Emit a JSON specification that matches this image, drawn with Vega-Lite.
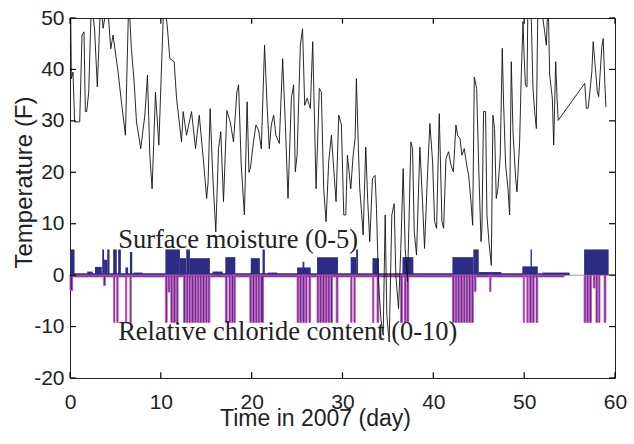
{
 "$schema": "https://vega.github.io/schema/vega-lite/v6.json",
 "width": 545, "height": 360,
 "autosize": {"type": "none"},
 "padding": {"left": 70, "top": 18, "right": 19, "bottom": 66},
 "background": "white",
 "config": {
  "view": {"stroke": "#222", "strokeWidth": 1},
  "axis": {"grid": false, "domain": false, "ticks": false, "labelFont": "Liberation Sans", "labelFontSize": 21, "labelColor": "#222", "titleFont": "Liberation Sans", "titleFontWeight": "normal", "titleColor": "#222", "labelFlush": false, "labelOverlap": false},
  "axisBottom": {"labelPadding": 13, "labelBaseline": "top", "titleFontSize": 23, "titleX": 245, "titleY": 47, "titleBaseline": "alphabetic", "titleAlign": "center"},
  "axisLeft": {"labelPadding": 6, "labelExpr": "datum.value + ''", "titleFontSize": 24, "titleX": -39, "titleY": 164, "titleBaseline": "alphabetic", "titleAngle": -90, "titleAlign": "center"}
 },
 "datasets": {
  "xt": [{"v":0},{"v":10},{"v":20},{"v":30},{"v":40},{"v":50},{"v":60}],
  "yt": [{"v":-20},{"v":-10},{"v":0},{"v":10},{"v":20},{"v":30},{"v":40},{"v":50}],
  "temp": [
   {"d":0.0,"t":49},{"d":0.07,"t":52},{"d":0.15,"t":38.2},{"d":0.33,"t":39.5},{"d":0.51,"t":29.8},{"d":1.07,"t":29.8},{"d":1.32,"t":46.7},{"d":1.54,"t":47.3},{"d":1.69,"t":31.8},{"d":1.84,"t":31.8},{"d":2.06,"t":35.6},{"d":2.35,"t":53},{"d":2.7,"t":48},{"d":3.01,"t":36.6},{"d":3.38,"t":54},{"d":3.64,"t":48},{"d":4.12,"t":53},{"d":4.49,"t":44},{"d":4.74,"t":46.7},{"d":5.29,"t":39.5},{"d":5.66,"t":33.7},{"d":6.1,"t":27.2},{"d":6.47,"t":54},{"d":6.76,"t":44},{"d":7.06,"t":37.6},{"d":7.32,"t":29.8},{"d":7.79,"t":24.6},{"d":8.24,"t":31.1},{"d":8.53,"t":38.9},{"d":8.79,"t":23.3},{"d":9.04,"t":16.8},{"d":9.41,"t":35.6},{"d":9.78,"t":25.3},{"d":10.26,"t":49.9},{"d":10.44,"t":52},{"d":10.7,"t":48.6},{"d":10.99,"t":42.1},{"d":11.47,"t":41.5},{"d":11.73,"t":34.4},{"d":12.28,"t":25.9},{"d":12.46,"t":31.8},{"d":12.83,"t":27.2},{"d":13.38,"t":31.8},{"d":13.82,"t":24.6},{"d":14.23,"t":31.1},{"d":14.67,"t":22.7},{"d":15.04,"t":14.9},
   {"d":15.2,"t":18},{"d":15.43,"t":32.4},{"d":15.7,"t":20},{"d":16.05,"t":8.4},{"d":16.35,"t":24.6},{"d":16.6,"t":27.9},{"d":16.9,"t":14.3},{"d":17.27,"t":32},{"d":17.64,"t":29.8},{"d":18.0,"t":25.9},{"d":18.37,"t":35.6},{"d":18.56,"t":37},{"d":18.85,"t":21.4},{"d":19.2,"t":11.7},{"d":19.5,"t":33.7},{"d":19.7,"t":20},{"d":19.85,"t":20.7},{"d":20.2,"t":25.9},{"d":20.47,"t":29.2},{"d":20.76,"t":28.2},{"d":21.06,"t":24.6},{"d":21.42,"t":44.7},{"d":21.68,"t":33.7},{"d":21.94,"t":24.6},{"d":22.16,"t":29.2},{"d":22.42,"t":31.1},{"d":22.67,"t":27.2},{"d":23.04,"t":25.6},{"d":23.41,"t":42.1},{"d":23.7,"t":29.8},{"d":24.0,"t":14.9},{"d":24.37,"t":34.4},{"d":24.62,"t":37},{"d":24.8,"t":20.1},{"d":25.0,"t":23.3},{"d":25.36,"t":44.7},{"d":25.6,"t":47.9},{"d":25.84,"t":33},{"d":26.1,"t":34.4},{"d":26.46,"t":32.4},{"d":26.72,"t":45.4},{"d":27.09,"t":16.8},{"d":27.45,"t":36.3},{"d":27.67,"t":35.6},{"d":27.93,"t":16.8},{"d":28.19,"t":10.4},{"d":28.48,"t":22},{"d":28.78,"t":27.2},{"d":29.03,"t":20.7},{"d":29.29,"t":14.3},{"d":29.59,"t":31.1},{"d":29.88,"t":29.2},{"d":30.14,"t":11.7},
   {"d":30.36,"t":11.7},{"d":30.54,"t":23.3},{"d":30.73,"t":20.1},{"d":30.91,"t":16.8},{"d":31.17,"t":23.3},{"d":31.39,"t":26.6},{"d":31.53,"t":38.2},{"d":31.75,"t":24.6},{"d":31.9,"t":16.8},{"d":32.12,"t":11.7},{"d":32.27,"t":7.8},{"d":32.56,"t":24.9},{"d":32.78,"t":14.3},{"d":33.0,"t":6.5},{"d":33.3,"t":18.8},{"d":33.59,"t":19.4},{"d":33.74,"t":13},{"d":33.96,"t":-1.3},{"d":34.22,"t":-8.4},{"d":34.48,"t":-11.7},{"d":34.7,"t":11.7},{"d":34.88,"t":-7.8},{"d":35.14,"t":-13},{"d":35.43,"t":11.7},{"d":35.69,"t":13.9},{"d":35.87,"t":0},{"d":36.17,"t":-6.5},{"d":36.42,"t":5.2},{"d":36.68,"t":20.7},{"d":36.9,"t":5.2},{"d":37.16,"t":-1.3},{"d":37.53,"t":25.9},{"d":37.71,"t":24.6},{"d":37.9,"t":8.4},{"d":38.15,"t":3.9},{"d":38.52,"t":24.9},{"d":38.81,"t":14.3},{"d":39.03,"t":5.2},{"d":39.37,"t":20.1},{"d":39.62,"t":29.5},{"d":39.92,"t":22},{"d":40.14,"t":10.4},{"d":40.36,"t":9.1},{"d":40.65,"t":31.4},{"d":40.95,"t":10.4},{"d":41.13,"t":9.1},{"d":41.39,"t":22.7},{"d":41.68,"t":24},{"d":41.94,"t":21.4},{"d":42.2,"t":20.1},{"d":42.49,"t":29.2},{"d":42.67,"t":27.2},{"d":42.93,"t":26.6},{"d":43.15,"t":23.3},{"d":43.41,"t":24.6},{"d":43.67,"t":21.4},{"d":43.89,"t":19.4},{"d":44.14,"t":14.3},{"d":44.33,"t":9.7},{"d":44.51,"t":38.5},{"d":44.77,"t":36.3},{"d":44.99,"t":21.4},{"d":45.25,"t":6.5},
   {"d":45.35,"t":9},{"d":45.53,"t":31.8},{"d":45.75,"t":31.8},{"d":45.9,"t":11.7},{"d":46.12,"t":6.5},{"d":46.38,"t":1.9},{"d":46.56,"t":31.1},{"d":46.74,"t":28.5},{"d":46.93,"t":14.9},{"d":47.11,"t":16.8},{"d":47.37,"t":23.3},{"d":47.59,"t":44.1},{"d":47.74,"t":33.1},{"d":47.96,"t":21.4},{"d":48.22,"t":16.8},{"d":48.4,"t":11.7},{"d":48.58,"t":41.5},{"d":48.77,"t":27.9},{"d":49.06,"t":18.8},{"d":49.21,"t":16.2},{"d":49.5,"t":25.9},{"d":49.68,"t":38.9},{"d":49.87,"t":49.3},{"d":49.98,"t":43.4},{"d":50.13,"t":37},{"d":50.31,"t":36.6},{"d":50.42,"t":54},{"d":50.79,"t":49.3},{"d":50.97,"t":36.3},{"d":51.16,"t":31.8},{"d":51.34,"t":28.5},{"d":51.52,"t":54},{"d":51.9,"t":52},{"d":52.26,"t":47.3},{"d":52.44,"t":44.7},{"d":52.63,"t":54},{"d":52.81,"t":38.9},{"d":53.1,"t":34.4},{"d":53.25,"t":25.3},{"d":53.47,"t":41.5},{"d":53.62,"t":34.4},{"d":53.75,"t":30.1},{"d":56.67,"t":37.3},{"d":56.85,"t":32.4},{"d":57.05,"t":32.5},{"d":57.45,"t":39.5},{"d":57.6,"t":45.4},{"d":58.05,"t":35.7},{"d":58.2,"t":34.7},{"d":58.55,"t":44.4},{"d":58.7,"t":46},{"d":58.88,"t":37.3},{"d":59.0,"t":32.7}
  ],
  "moist": [
   {"s":0,"e":54.4,"v":0.35},
   {"s":0.0,"e":0.5,"v":5},{"s":1.9,"e":2.5,"v":0.7},{"s":2.75,"e":3.5,"v":1.6},{"s":3.55,"e":3.75,"v":5},{"s":3.75,"e":4.1,"v":3},{"s":4.1,"e":4.35,"v":5},{"s":4.75,"e":5.15,"v":5},{"s":5.3,"e":5.6,"v":5},{"s":6.1,"e":6.4,"v":1.5},{"s":6.6,"e":6.85,"v":4.5},{"s":7.0,"e":8.0,"v":0.5},
   {"s":10.5,"e":12.1,"v":5},{"s":12.1,"e":12.8,"v":3.3},{"s":12.8,"e":13.2,"v":5},{"s":13.2,"e":15.4,"v":3.3},{"s":15.7,"e":16.8,"v":0.7},{"s":17.1,"e":18.2,"v":3.5},{"s":19.9,"e":20.9,"v":3.3},{"s":21.2,"e":21.45,"v":5},{"s":21.8,"e":22.8,"v":0.5},
   {"s":25.0,"e":26.5,"v":1.5},{"s":25.6,"e":25.8,"v":2.6},{"s":27.2,"e":29.5,"v":3.5},{"s":30.9,"e":31.5,"v":3.5},{"s":31.5,"e":31.7,"v":5},{"s":33.3,"e":34.0,"v":3.3},{"s":36.6,"e":37.8,"v":3.5},
   {"s":42.1,"e":44.4,"v":3.5},{"s":44.4,"e":45.0,"v":5},{"s":45.0,"e":47.5,"v":0.6},{"s":49.8,"e":51.5,"v":1.7},{"s":50.7,"e":50.85,"v":5},{"s":52.0,"e":55.0,"v":0.5},{"s":56.6,"e":59.3,"v":5}
  ],
  "chl": [
   {"s":0,"e":54.4,"v":-0.35},
   {"s":0.0,"e":0.3,"v":-3},
   {"s":3.7,"e":3.9,"v":-2},
   {"s":4.8,"e":4.95,"v":-9.2},{"s":5.15,"e":5.3,"v":-9.2},
   {"s":6.1,"e":6.25,"v":-9.2},{"s":6.6,"e":6.75,"v":-9.2},
   {"s":10.5,"e":10.7,"v":-9.2},{"s":10.8,"e":11.0,"v":-3.3},{"s":11.1,"e":11.3,"v":-9.2},{"s":11.4,"e":11.6,"v":-9.2},{"s":11.7,"e":11.9,"v":-9.2},
   {"s":12.5,"e":12.7,"v":-9.2},{"s":12.8,"e":13.0,"v":-9.2},{"s":13.1,"e":13.3,"v":-9.2},{"s":13.4,"e":13.6,"v":-9.2},{"s":13.7,"e":13.9,"v":-9.2},{"s":14.0,"e":14.2,"v":-9.2},{"s":14.3,"e":14.5,"v":-9.2},{"s":14.6,"e":14.8,"v":-9.2},{"s":14.9,"e":15.1,"v":-9.2},{"s":15.2,"e":15.4,"v":-9.2},
   {"s":17.1,"e":17.3,"v":-9.2},{"s":17.5,"e":17.7,"v":-9.2},{"s":17.8,"e":18.0,"v":-9.2},{"s":18.05,"e":18.2,"v":-9.2},
   {"s":19.8,"e":20.0,"v":-9.2},{"s":20.1,"e":20.3,"v":-9.2},{"s":20.4,"e":20.6,"v":-9.2},{"s":20.7,"e":20.9,"v":-9.2},{"s":21.0,"e":21.3,"v":-9.2},
   {"s":25.0,"e":25.2,"v":-9.2},{"s":25.3,"e":25.5,"v":-9.2},{"s":25.6,"e":25.8,"v":-9.2},{"s":25.9,"e":26.1,"v":-9.2},{"s":26.3,"e":26.5,"v":-9.2},
   {"s":27.2,"e":27.4,"v":-9.2},{"s":27.5,"e":27.7,"v":-9.2},{"s":27.8,"e":28.0,"v":-9.2},{"s":28.1,"e":28.3,"v":-9.2},{"s":28.4,"e":28.6,"v":-9.2},{"s":28.7,"e":28.9,"v":-9.2},{"s":29.3,"e":29.5,"v":-9.2},
   {"s":30.9,"e":31.05,"v":-9.2},{"s":31.25,"e":31.4,"v":-9.2},
   {"s":33.3,"e":33.45,"v":-9.2},{"s":33.8,"e":34.0,"v":-9.2},
   {"s":36.4,"e":36.6,"v":-9.2},{"s":36.8,"e":37.0,"v":-9.2},{"s":37.1,"e":37.3,"v":-9.2},
   {"s":42.1,"e":42.3,"v":-9.2},{"s":42.4,"e":42.6,"v":-9.2},{"s":42.7,"e":42.9,"v":-9.2},{"s":43.0,"e":43.2,"v":-9.2},{"s":43.3,"e":43.5,"v":-9.2},{"s":43.6,"e":43.8,"v":-9.2},{"s":43.9,"e":44.1,"v":-9.2},{"s":44.2,"e":44.4,"v":-9.2},{"s":44.5,"e":44.7,"v":-3.2},
   {"s":46.2,"e":46.35,"v":-3.2},
   {"s":49.9,"e":50.05,"v":-9.2},{"s":50.3,"e":50.45,"v":-9.2},{"s":50.6,"e":50.8,"v":-9.2},{"s":50.9,"e":51.1,"v":-9.2},{"s":51.3,"e":51.5,"v":-9.2},
   {"s":56.6,"e":56.8,"v":-9.2},{"s":56.9,"e":57.1,"v":-9.2},{"s":57.2,"e":57.4,"v":-9.2},{"s":57.6,"e":57.8,"v":-2.5},{"s":57.9,"e":58.1,"v":-9.2},{"s":58.2,"e":58.35,"v":-9.2},{"s":58.8,"e":59.0,"v":-9.2}
  ],
  "labels": [
   {"d":5.3,"t":5.25,"txt":"Surface moisture (0-5)"},
   {"d":5.3,"t":-12.64,"txt":"Relative chloride content (0-10)"}
  ]
 },
 "encoding": {
  "x": {"type": "quantitative", "scale": {"domain": [0, 60], "nice": false, "zero": false}, "axis": {"values": [0,10,20,30,40,50,60]}, "title": "Time in 2007 (day)"},
  "y": {"type": "quantitative", "scale": {"domain": [-20, 50], "nice": false, "zero": false}, "axis": {"values": [-20,-10,0,10,20,30,40,50]}, "title": "Temperature (F)"}
 },
 "layer": [
  {
   "data": {"values": [{"a": 0}]},
   "mark": {"type": "rule", "color": "#9a9a9a", "strokeWidth": 1},
   "encoding": {"x": {"datum": 0}, "x2": {"datum": 60}, "y": {"datum": 0}}
  },
  {
   "data": {"name": "moist"},
   "mark": {"type": "rect", "color": "#2c2c84", "strokeWidth": 0},
   "encoding": {"x": {"field": "s"}, "x2": {"field": "e"}, "y": {"field": "v"}, "y2": {"datum": 0}}
  },
  {
   "data": {"name": "chl"},
   "mark": {"type": "rect", "fill": "#33308a", "stroke": "#cc4fb8", "strokeWidth": 0.9},
   "encoding": {"x": {"field": "s"}, "x2": {"field": "e"}, "y": {"field": "v"}, "y2": {"datum": 0}}
  },
  {
   "data": {"name": "temp"},
   "mark": {"type": "line", "color": "#111111", "strokeWidth": 0.9, "clip": true},
   "encoding": {"x": {"field": "d"}, "y": {"field": "t"}}
  },
  {
   "data": {"name": "labels"},
   "mark": {"type": "text", "font": "Liberation Serif", "fontSize": 26.5, "align": "left", "baseline": "alphabetic", "color": "#222222"},
   "encoding": {"x": {"field": "d"}, "y": {"field": "t"}, "text": {"field": "txt"}}
  },
  {
   "data": {"name": "xt"},
   "mark": {"type": "rule", "color": "#000000", "strokeWidth": 1.2},
   "encoding": {"x": {"field": "v"}, "y": {"datum": -20}, "y2": {"datum": -18.9}}
  },
  {
   "data": {"name": "xt"},
   "mark": {"type": "rule", "color": "#000000", "strokeWidth": 1.2},
   "encoding": {"x": {"field": "v"}, "y": {"datum": 50}, "y2": {"datum": 48.9}}
  },
  {
   "data": {"name": "yt"},
   "mark": {"type": "rule", "color": "#000000", "strokeWidth": 1.2},
   "encoding": {"y": {"field": "v"}, "x": {"datum": 0}, "x2": {"datum": 0.65}}
  },
  {
   "data": {"name": "yt"},
   "mark": {"type": "rule", "color": "#000000", "strokeWidth": 1.2},
   "encoding": {"y": {"field": "v"}, "x": {"datum": 60}, "x2": {"datum": 59.35}}
  }
 ]
}
